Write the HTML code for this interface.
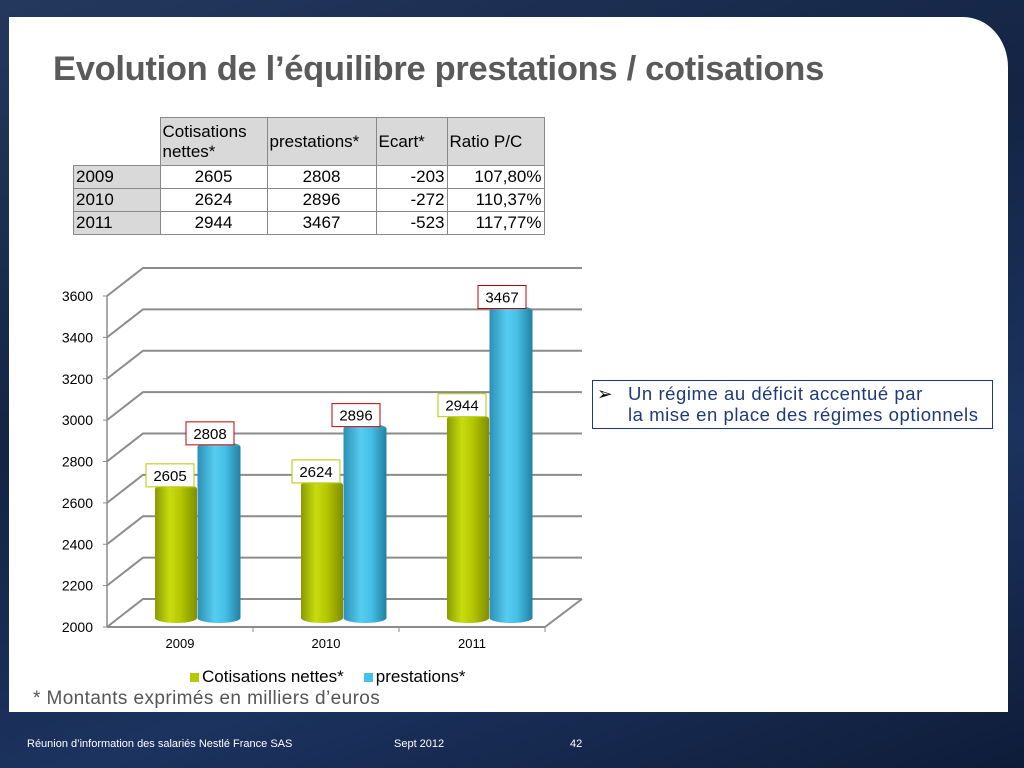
<!DOCTYPE html>
<html><head><meta charset="utf-8"><style>
body{margin:0;width:1024px;height:768px;overflow:hidden;background:linear-gradient(160deg,#24385e 0%,#132444 40%,#1c3360 70%,#0e1c38 100%);font-family:"Liberation Sans",sans-serif;position:relative}
.panel{position:absolute;left:9px;top:17px;width:999px;height:695px;background:#fff;border-top-right-radius:45px 50px}
h1{position:absolute;left:53px;top:50px;margin:0;font-size:34.5px;color:#5a5a5a;font-weight:bold;letter-spacing:-0.3px}
table{position:absolute;left:73px;top:117px;border-collapse:collapse;font-size:17px;color:#000}
td{border:1px solid #888;padding:0 2px;line-height:22px;height:22px}
.g{background:#d9d9d9;text-align:left}
.h td{height:47px;line-height:20px;background:#d9d9d9;text-align:left}
.r{text-align:right}.c{text-align:center}
.foot{position:absolute;top:738px;color:#fff;font-size:11px}
.box{position:absolute;left:592px;top:380px;width:401px;height:49px;border:1px solid #1f3a7a;box-sizing:border-box;font-size:18.5px;color:#1f3a7a;padding:2px 0 0 35px;line-height:21px;white-space:nowrap;letter-spacing:0.55px;overflow:visible}
</style></head><body>
<div class="panel"></div>
<h1>Evolution de l’équilibre prestations / cotisations</h1>
<table>
<tr class="h"><td style="width:82px;background:#fff;border:none;border-right:1px solid #888;border-bottom:1px solid #888"></td><td style="width:102px">Cotisations<br>nettes*</td><td style="width:104px">prestations*</td><td style="width:66px">Ecart*</td><td style="width:92px" class="c">Ratio P/C</td></tr>
<tr><td class="g">2009</td><td class="c">2605</td><td class="c">2808</td><td class="r">-203</td><td class="r">107,80%</td></tr>
<tr><td class="g">2010</td><td class="c">2624</td><td class="c">2896</td><td class="r">-272</td><td class="r">110,37%</td></tr>
<tr><td class="g">2011</td><td class="c">2944</td><td class="c">3467</td><td class="r">-523</td><td class="r">117,77%</td></tr>
</table>
<div class="box"><span style="position:absolute;left:4px;top:2px;color:#000">➢</span>Un régime au déficit accentué par<br>la mise en place des régimes optionnels</div>
<svg id="chart" width="1024" height="768" style="position:absolute;left:0;top:0">
<defs>
<linearGradient id="gg" x1="0" x2="1"><stop offset="0" stop-color="#8a9a00"/><stop offset="0.35" stop-color="#c8dc10"/><stop offset="0.6" stop-color="#b6c800"/><stop offset="1" stop-color="#7f8e00"/></linearGradient>
<linearGradient id="bg" x1="0" x2="1"><stop offset="0" stop-color="#2d8fb5"/><stop offset="0.4" stop-color="#55cdf0"/><stop offset="0.65" stop-color="#44bfe5"/><stop offset="1" stop-color="#237fa2"/></linearGradient>
</defs>
</svg>
<div style="position:absolute;left:190px;top:667px;font-size:17px;color:#000;white-space:nowrap"><span><span style="display:inline-block;width:9px;height:9px;background:#b5c800;margin-right:3px"></span>Cotisations nettes*</span><span style="margin-left:20px"><span style="display:inline-block;width:9px;height:9px;background:#45c0e6;margin-right:3px"></span>prestations*</span></div>
<div style="position:absolute;left:33px;top:688px;font-size:19px;color:#555;white-space:nowrap;letter-spacing:0.4px">* Montants exprimés en milliers d’euros</div>
<div class="foot" style="left:27px">Réunion d’information des salariés Nestlé France SAS</div>
<div class="foot" style="left:394px">Sept 2012</div>
<div class="foot" style="left:570px">42</div>
<script>
const categories=["2009","2010","2011"];
const cotisations=[2605,2624,2944];
const prestations=[2808,2896,3467];
const ticks=[2000,2200,2400,2600,2800,3000,3200,3400,3600];
const svg=document.getElementById('chart');const NS="http://www.w3.org/2000/svg";
function mk(t,a){const e=document.createElementNS(NS,t);for(const k in a)e.setAttribute(k,a[k]);svg.appendChild(e);return e;}
const X0=107,X1=545,DX=36,DY=-28;
const yF=v=>627-(v-2000)*(331/1600);
const yM=v=>yF(v)-13;
const cx=i=>X0+(X1-X0)*(i+0.5)/categories.length+DX/2;
ticks.forEach(t=>{const y=yF(t);
 const g=mk('polyline',{points:`${X0},${y} ${X0+DX},${y+DY} ${X1+DX+1},${y+DY}`,fill:'none',stroke:'#8c8c8c','stroke-width':2});
 
 const l=mk('text',{x:93,y:y+5,'text-anchor':'end','font-size':14,fill:'#000'});l.textContent=t;
 
 mk('line',{x1:X0-4,x2:X0,y1:y,y2:y,stroke:'#8c8c8c'});
});
mk('line',{x1:X0,x2:X0,y1:yF(3600),y2:627,stroke:'#8c8c8c','stroke-width':1.5});
mk('polyline',{points:`${X0},627 ${X1},627 ${X1+DX+1},${627+DY}`,fill:'none',stroke:'#8c8c8c','stroke-width':2});
categories.forEach((c,i)=>{
 const tx=X0+(X1-X0)*(i+1)/categories.length;mk('line',{x1:tx,x2:tx,y1:627,y2:632,stroke:'#8c8c8c'});
 const l=mk('text',{x:X0+(X1-X0)*(i+0.5)/categories.length,y:648,'text-anchor':'middle','font-size':13,fill:'#000'});l.textContent=c;
 
});
function cyl(x,w,v,fill,name,border,lx){
 const top=yM(v),bot=yM(2000)+4,r=w/2,ry=5;
 const p=mk('path',{d:`M${x-r},${top} L${x-r},${bot} A${r},${ry} 0 0 0 ${x+r},${bot} L${x+r},${top} Z`,fill:fill});
 
 mk('ellipse',{cx:x,cy:top,rx:r,ry:ry,fill:fill,opacity:0.95});
 const tw=48,th=23,bx=lx-tw/2,by=top-th-2;
 const b=mk('rect',{x:bx,y:by,width:tw,height:th,fill:'#fff',stroke:border,'stroke-width':1});
 
 const t=mk('text',{x:lx,y:by+17,'text-anchor':'middle','font-size':15,fill:'#000'});t.textContent=v;
 
}
categories.forEach((c,i)=>{
 const m=cx(i);
 cyl(m-22,42,cotisations[i],'url(#gg)','bar-cotisations-'+c,'#b5c800',m-28);
 cyl(m+21,43,prestations[i],'url(#bg)','bar-prestations-'+c,'#c00000',m+12);
});
</script>
</body></html>
